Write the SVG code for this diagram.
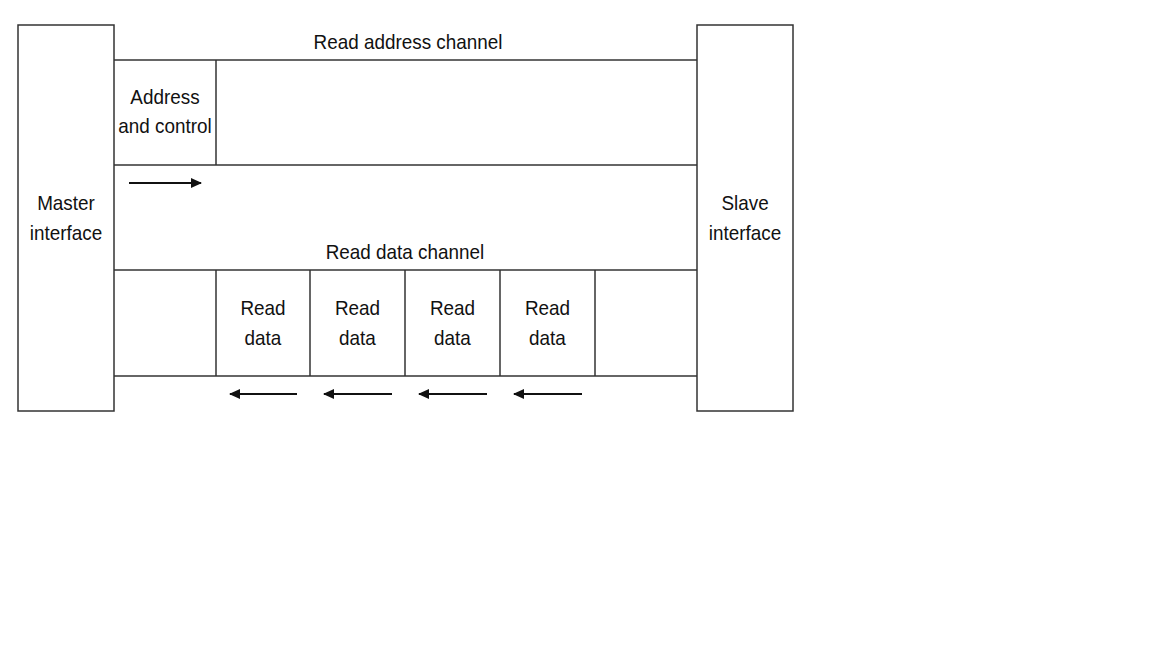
<svg xmlns="http://www.w3.org/2000/svg" width="1152" height="648" viewBox="0 0 1152 648">
<defs>
<style>
.box{fill:#fff;stroke:#333;stroke-width:1.5}
.ln{stroke:#333;stroke-width:1.5;fill:none}
.t{font-family:"Liberation Sans",Arial,sans-serif;font-size:21px;fill:#111;text-anchor:middle}
.ar{stroke:#111;stroke-width:1.8;fill:none}
</style>
<marker id="ah" viewBox="0 0 11 10" refX="10" refY="5" markerWidth="11" markerHeight="10" markerUnits="userSpaceOnUse" orient="auto">
<path d="M0,0 L11,5 L0,10 Z" fill="#111"/>
</marker>
</defs>
<rect width="1152" height="648" fill="#fff"/>
<g id="channels">
<line class="ln" x1="114" y1="60" x2="697" y2="60"/>
<line class="ln" x1="114" y1="165" x2="697" y2="165"/>
<line class="ln" x1="114" y1="270" x2="697" y2="270"/>
<line class="ln" x1="114" y1="376" x2="697" y2="376"/>
<g transform="translate(408,49) scale(0.9,1)"><text class="t">Read address channel</text></g>
<g transform="translate(405,259) scale(0.9,1)"><text class="t">Read data channel</text></g>
</g>
<g id="master">
<rect class="box" x="18" y="25" width="96" height="386"/>
<g transform="translate(66,210) scale(0.9,1)"><text class="t">Master</text><text class="t" y="30">interface</text></g>
</g>
<g id="slave">
<rect class="box" x="697" y="25" width="96" height="386"/>
<g transform="translate(745,210) scale(0.9,1)"><text class="t">Slave</text><text class="t" y="30">interface</text></g>
</g>
<g id="addr">
<line class="ln" x1="216" y1="60" x2="216" y2="165"/>
<g transform="translate(165,104) scale(0.9,1)"><text class="t">Address</text><text class="t" y="29">and control</text></g>
</g>
<g id="rd1">
<line class="ln" x1="216" y1="270" x2="216" y2="376"/>
<line class="ln" x1="310" y1="270" x2="310" y2="376"/>
<g transform="translate(263,315) scale(0.9,1)"><text class="t">Read</text><text class="t" y="30">data</text></g>
</g>
<g id="rd2">
<line class="ln" x1="405" y1="270" x2="405" y2="376"/>
<g transform="translate(357.5,315) scale(0.9,1)"><text class="t">Read</text><text class="t" y="30">data</text></g>
</g>
<g id="rd3">
<line class="ln" x1="500" y1="270" x2="500" y2="376"/>
<g transform="translate(452.5,315) scale(0.9,1)"><text class="t">Read</text><text class="t" y="30">data</text></g>
</g>
<g id="rd4">
<line class="ln" x1="595" y1="270" x2="595" y2="376"/>
<g transform="translate(547.5,315) scale(0.9,1)"><text class="t">Read</text><text class="t" y="30">data</text></g>
</g>
<g id="connectors">
<line class="ar" x1="129" y1="183" x2="201" y2="183" marker-end="url(#ah)"/>
<line class="ar" x1="297" y1="394" x2="230" y2="394" marker-end="url(#ah)"/>
<line class="ar" x1="392" y1="394" x2="324" y2="394" marker-end="url(#ah)"/>
<line class="ar" x1="487" y1="394" x2="419" y2="394" marker-end="url(#ah)"/>
<line class="ar" x1="582" y1="394" x2="514" y2="394" marker-end="url(#ah)"/>
</g>
</svg>
